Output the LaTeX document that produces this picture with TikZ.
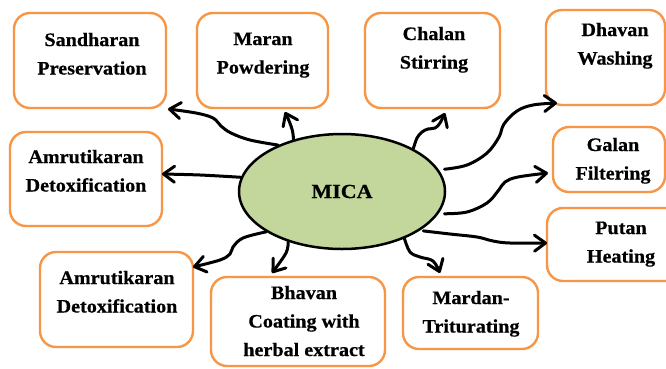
\documentclass[tikz,border=0pt]{standalone}
\usepackage{fontspec}
\setmainfont{Liberation Serif}[BoldFont={Liberation Serif Bold}, FakeStretch=1.06, BoldFeatures={FakeBold=0.6}]
\newfontfamily\micafont{Liberation Serif}[BoldFont={Liberation Serif Bold}, FakeStretch=1.1, BoldFeatures={FakeBold=0.6}]
\usetikzlibrary{arrows.meta,shapes.geometric}
\definecolor{boxorange}{RGB}{247,150,70}
\definecolor{micagreen}{RGB}{195,214,155}
\newcommand\mlines[1]{\vtop{\baselineskip=28.5pt\halign{\hfil##\hfil\cr#1\crcr}}}
\begin{document}
\begin{tikzpicture}[x=1pt,y=-1pt,
  procbox/.style={draw=boxorange, line width=2.4pt, rounded corners=16pt, fill=white, inner sep=0pt},
  lbl/.style={anchor=base, inner sep=0pt, font=\fontsize{19}{28.5}\selectfont\bfseries},
  conn/.style={line width=3pt, line cap=round, line join=round,
    -{Straight Barb[length=11pt,width=16pt,line cap=round,line join=round]}},
]
\useasboundingbox (0,0) rectangle (666,368);
\clip (0,0) rectangle (666,368);
\fill[white] (0,0) rectangle (666,368);

% boxes
\node[procbox, minimum width=152pt, minimum height=95pt] (b1) at (90,60.5) {};
\node[procbox, minimum width=131pt, minimum height=95pt] (b2) at (262.5,60.5) {};
\node[procbox, minimum width=135pt, minimum height=95pt] (b3) at (432.5,60.5) {};
\node[procbox, minimum width=119pt, minimum height=95pt] (b4) at (605.5,57.5) {};
\node[procbox, minimum width=112pt, minimum height=65pt] (b5) at (609,159.5) {};
\node[procbox, minimum width=138pt, minimum height=73pt] (b6) at (616,244.5) {};
\node[procbox, minimum width=135pt, minimum height=72pt] (b7) at (470.5,313) {};
\node[procbox, minimum width=174pt, minimum height=89pt] (b8) at (298,321.5) {};
\node[procbox, minimum width=153pt, minimum height=95pt] (b9) at (116.5,299.5) {};
\node[procbox, minimum width=152pt, minimum height=94pt] (b10) at (86,179) {};

% labels
\node[lbl] (t1) at (92,46) {\mlines{Sandharan\cr Preservation}};
\node[lbl] (t2) at (263,45) {\mlines{Maran\cr Powdering}};
\node[lbl] (t3) at (434,40) {\mlines{Chalan\cr Stirring}};
\node[lbl] (t4) at (615,36) {\mlines{Dhavan\cr Washing}};
\node[lbl] (t5) at (613,151) {\mlines{Galan\cr Filtering}};
\node[lbl] (t6) at (621,234) {\mlines{Putan\cr Heating}};
\node[lbl] (t7) at (471,304) {\mlines{Mardan-\cr Triturating}};
\node[lbl] (t8) at (304,299) {\mlines{Bhavan\cr Coating with\cr herbal extract}};
\node[lbl] (t9) at (117,284) {\mlines{Amrutikaran\cr Detoxification}};
\node[lbl] (t10) at (86,163) {\mlines{Amrutikaran\cr Detoxification}};

% central ellipse
\node[draw, ellipse, fill=micagreen, line width=2.5pt, minimum width=206pt,
      minimum height=115pt, inner sep=0pt, font=\fontsize{20}{24}\micafont\bfseries]
      (mica) at (342,191.5) {MICA};

% arrow end points
\coordinate (e1) at (168,109);
\coordinate (e2) at (285,112);
\coordinate (e3) at (445,113);
\coordinate (e4) at (557,103);
\coordinate (e5) at (548,173);
\coordinate (e6) at (547,243);
\coordinate (e7) at (440,273);
\coordinate (e8) at (272,273);
\coordinate (e9) at (193,267);
\coordinate (e10) at (162,174);

% connectors
\draw[conn] plot[smooth, tension=0.6] coordinates {(mica.144) (250,140) (231,133) (221,126) (213,118) (196,113) (e1)};
\draw[conn] plot[smooth, tension=0.6] coordinates {(mica.133) (292.5,131) (289.5,122) (e2)};
\draw[conn] plot[smooth, tension=0.6] coordinates {(mica.31) (417,138) (422,132) (428,129) (435,128) (440,123) (e3)};
\draw[conn] plot[smooth, tension=0.6] coordinates {([xshift=6pt]mica.13) (467,165) (487,153) (499,137) (504,124) (517,111) (533,105) (e4)};
\draw[conn] plot[smooth, tension=0.6] coordinates {([xshift=6pt]mica.-13) (467,212) (487,203) (498,191) (505,182) (518,177) (e5)};
\draw[conn] plot[smooth, tension=0.6] coordinates {([xshift=4pt]mica.-27) (450,234) (477,237) (493,241) (510,243) (e6)};
\draw[conn] plot[smooth, tension=0.6] coordinates {(mica.-37) (410,252) (420,257) (433,261) (e7)};
\draw[conn] plot[smooth, tension=0.6] coordinates {(mica.-137) (286,253) (e8)};
\draw[conn] plot[smooth, tension=0.6] coordinates {(mica.208) (243,238) (233,247) (230,254) (220,260) (e9)};
\draw[conn] plot[smooth, tension=0.6] coordinates {(mica.172) (200,175) (e10)};
\end{tikzpicture}
\end{document}
